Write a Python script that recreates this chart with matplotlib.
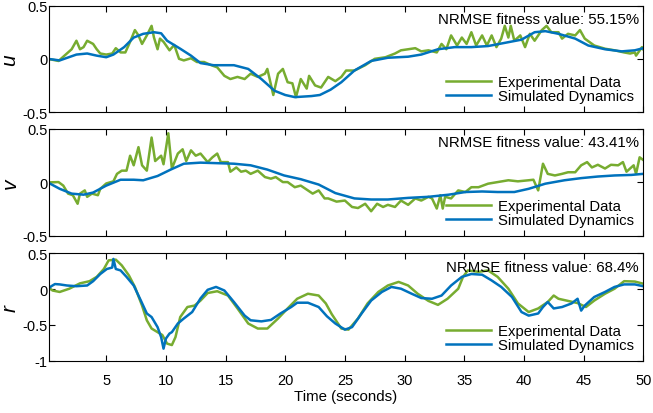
import matplotlib
matplotlib.use("Agg")
import matplotlib.pyplot as plt

# ---- data ----
t_u_exp = [0.1, 1, 1.5, 2.1, 2.5, 2.8, 3.1, 3.4, 3.9, 4.2, 4.5, 5, 5.5, 5.8, 6.2, 6.6, 7, 7.4, 7.7, 8,
           8.4, 8.8, 9, 9.3, 9.5, 9.8, 10.3, 10.7, 11.1, 11.5, 12.1, 12.6, 13.2, 13.8, 14.3, 14.9, 15.4,
           16, 16.6, 17.1, 17.7, 18.3, 18.5, 19, 19.4, 19.8, 20.2, 20.6, 20.9, 21.3, 21.8, 22, 22.5, 23,
           23.6, 23.9, 24.2, 24.7, 25.1, 25.8, 26.7, 27.5, 28.4, 29.2, 29.7, 30.3, 30.9, 31.4, 32, 32.7,
           33.1, 33.5, 33.9, 34.4, 34.8, 35.2, 35.6, 36, 36.5, 36.9, 37.3, 37.7, 38.1, 38.4, 38.7, 38.9,
           39.2, 39.7, 40.1, 40.5, 40.9, 41.5, 41.9, 42.3, 42.9, 43.2, 43.7, 44.3, 44.7, 45.1, 45.9, 46.8,
           47.6, 48.4, 48.9, 49.3, 49.4, 49.9, 50]
u_exp = [0, -0.02, 0.03, 0.09, 0.17, 0.09, 0.11, 0.17, 0.14, 0.09, 0.05, 0.04, 0.05, 0.1, 0.06, 0.06,
         0.16, 0.27, 0.22, 0.14, 0.22, 0.31, 0.2, 0.09, 0.19, 0.16, 0.08, 0.13, 0, -0.015, 0.005, -0.03,
         -0.03, -0.06, -0.08, -0.16, -0.19, -0.17, -0.19, -0.14, -0.17, -0.14, -0.095, -0.34, -0.14,
         -0.095, -0.22, -0.23, -0.36, -0.19, -0.28, -0.16, -0.25, -0.27, -0.17, -0.19, -0.21, -0.17,
         -0.11, -0.11, -0.06, 0, 0.015, 0.05, 0.08, 0.09, 0.1, 0.07, 0.08, 0.06, 0.14, 0.09, 0.22, 0.125,
         0.2, 0.14, 0.25, 0.125, 0.22, 0.125, 0.22, 0.11, 0.19, 0.31, 0.2, 0.31, 0.17, 0.22, 0.11, 0.235,
         0.17, 0.27, 0.31, 0.25, 0.25, 0.19, 0.235, 0.22, 0.27, 0.19, 0.125, 0.095, 0.08, 0.06, 0.05,
         0.06, 0.03, 0.11, 0.09]
t_u_sim = [0.1, 1.1, 2.5, 3.4, 4.2, 5, 5.6, 6.5, 7.3, 8.1, 9, 9.6, 10.1, 11.2, 12.1, 12.9, 14, 15.7,
           16.9, 18, 19.1, 20, 20.8, 22.2, 22.9, 23.8, 24.7, 25.8, 27.2, 28.6, 30.3, 31.4, 32.8, 34.2,
           35.6, 37, 38.4, 39.8, 40.9, 41.8, 42.9, 44.3, 45.4, 46.8, 48.2, 49.3, 50]
u_sim = [0, -0.015, 0.04, 0.05, 0.03, 0.015, 0.04, 0.11, 0.2, 0.235, 0.25, 0.24, 0.17, 0.095, 0.03,
         -0.04, -0.06, -0.06, -0.095, -0.19, -0.3, -0.34, -0.36, -0.35, -0.34, -0.29, -0.22, -0.11,
         -0.02, 0.01, 0.02, 0.04, 0.09, 0.11, 0.11, 0.12, 0.15, 0.18, 0.25, 0.26, 0.235, 0.19, 0.125,
         0.09, 0.07, 0.08, 0.1]

t_v_exp = [0.1, 1, 1.4, 1.8, 2.2, 2.6, 2.8, 3.2, 3.4, 3.8, 4.3, 4.5, 5, 5.6, 5.9, 6.3, 6.7, 7, 7.3, 7.7,
           8, 8.4, 8.8, 9.1, 9.6, 9.8, 10.2, 10.5, 11, 11.4, 11.7, 12.1, 12.5, 12.9, 13.5, 13.9, 14.3,
           14.6, 15.2, 15.4, 15.9, 16.3, 16.7, 17.1, 17.7, 18.3, 18.8, 19.2, 19.8, 20.2, 20.8, 21.3, 21.9,
           22.3, 22.8, 23.3, 23.6, 24.3, 25, 25.6, 26.1, 26.7, 27.2, 27.7, 28.2, 28.6, 29.2, 29.7, 30.3,
           30.9, 31.4, 32, 32.3, 32.7, 33, 33.2, 33.4, 33.9, 34.5, 35.1, 35.6, 36.2, 37, 37.8, 38.7, 39.5,
           40.4, 40.8, 41.2, 41.6, 42, 42.6, 43.2, 43.7, 44.3, 44.8, 45.3, 45.7, 46.2, 46.8, 47.3, 47.9,
           48.3, 48.6, 49.2, 49.4, 49.7, 50]
v_exp = [0, 0.003, -0.03, -0.105, -0.12, -0.2, -0.105, -0.075, -0.135, -0.105, -0.12, -0.06, -0.01,
         0.01, 0.08, 0.11, 0.11, 0.25, 0.16, 0.33, 0.16, 0.11, 0.42, 0.2, 0.25, 0.17, 0.46, 0.13, 0.27,
         0.31, 0.2, 0.3, 0.25, 0.27, 0.19, 0.235, 0.27, 0.19, 0.19, 0.1, 0.14, 0.1, 0.11, 0.08, 0.11,
         0.05, 0.035, 0.05, 0.003, 0.003, -0.045, -0.03, -0.075, -0.105, -0.075, -0.15, -0.15, -0.18,
         -0.17, -0.23, -0.24, -0.2, -0.27, -0.2, -0.23, -0.21, -0.23, -0.17, -0.21, -0.15, -0.17, -0.135,
         -0.15, -0.245, -0.12, -0.245, -0.135, -0.15, -0.075, -0.09, -0.045, -0.045, -0.012, 0.003, 0.02,
         0.01, 0.02, 0.025, -0.075, 0.175, 0.08, 0.065, 0.08, 0.095, 0.095, 0.16, 0.19, 0.14, 0.165, 0.13,
         0.165, 0.16, 0.19, 0.1, 0.16, 0.08, 0.235, 0.21]
t_v_sim = [0.1, 1.1, 2.1, 3.1, 3.9, 5, 6.2, 7.3, 8.1, 9.3, 10.4, 11.5, 12.9, 14.3, 15.7, 17.1, 18.5,
           19.9, 21.3, 22.8, 24.2, 25.8, 27.2, 28.6, 30.3, 32, 33.7, 35.1, 36.5, 37.8, 39.2, 40.4, 41.8,
           43.4, 44.8, 46.2, 47.6, 49, 50]
v_sim = [0, -0.06, -0.105, -0.115, -0.095, -0.03, 0.025, 0.025, 0.02, 0.06, 0.12, 0.175, 0.185, 0.18,
         0.175, 0.16, 0.12, 0.065, 0.03, -0.02, -0.1, -0.15, -0.16, -0.16, -0.145, -0.135, -0.115, -0.09,
         -0.085, -0.09, -0.09, -0.06, -0.012, 0.02, 0.04, 0.055, 0.065, 0.07, 0.08]

t_r_exp = [0.1, 0.5, 1.1, 1.9, 2.8, 3.6, 4.2, 4.8, 5.2, 5.8, 6.3, 6.9, 7.4, 8, 8.4, 8.8, 9.3, 9.7, 10.1,
           10.5, 10.8, 11.2, 11.8, 12.4, 12.9, 13.5, 14.3, 15.2, 16, 16.9, 17.7, 18.5, 19.4, 20.2, 21,
           21.9, 22.8, 23.4, 23.9, 24.7, 25.3, 26.1, 26.9, 27.8, 28.6, 29.5, 30.3, 31.1, 32, 32.8, 33.6,
           34.5, 34.9, 35.3, 36.2, 37, 37.8, 38.7, 39.5, 40.4, 41.2, 42, 42.5, 42.9, 43.7, 44.5, 45.2,
           45.9, 46.8, 47.6, 48.4, 49.3, 50]
r_exp = [0.03, -0.02, -0.04, 0.005, 0.08, 0.11, 0.17, 0.28, 0.4, 0.41, 0.33, 0.19, 0.03, -0.23, -0.435,
         -0.55, -0.6, -0.64, -0.76, -0.78, -0.67, -0.39, -0.25, -0.23, -0.16, -0.055, -0.03, -0.09,
         -0.27, -0.48, -0.55, -0.55, -0.41, -0.27, -0.135, -0.065, -0.09, -0.2, -0.35, -0.55, -0.565,
         -0.41, -0.2, -0.04, 0.05, 0.1, 0.05, -0.065, -0.165, -0.22, -0.135, 0.005, 0.17, 0.26, 0.24,
         0.26, 0.17, 0.005, -0.2, -0.32, -0.27, -0.18, -0.09, -0.135, -0.165, -0.195, -0.25, -0.16,
         -0.065, 0.005, 0.11, 0.105, 0.075]
t_r_sim = [0.1, 0.4, 0.7, 1.1, 1.7, 2.5, 3.4, 3.9, 4.5, 5.05, 5.5, 5.6, 5.8, 6.2, 6.7, 7.3, 7.9, 8.4,
           8.8, 9.3, 9.6, 9.8, 10, 10.3, 10.5, 11, 11.5, 12.2, 12.9, 13.5, 14.2, 14.9, 15.7, 16.6, 17.1,
           18, 18.8, 19.6, 20.5, 21, 21.9, 22.8, 23.5, 24.2, 25, 25.6, 26.4, 27.2, 28.1, 28.9, 29.7, 30.6,
           31.4, 32.3, 33.1, 33.9, 34.8, 35.6, 36.5, 37.3, 38.1, 39, 39.8, 40.4, 41.2, 41.6, 42, 42.5,
           43.2, 44, 44.5, 44.8, 45.1, 45.9, 46.8, 47.6, 48.4, 49.3, 50]
r_sim = [0, 0.04, 0.07, 0.065, 0.05, 0.04, 0.05, 0.11, 0.21, 0.28, 0.3, 0.42, 0.28, 0.26, 0.17, 0.05,
         -0.16, -0.34, -0.39, -0.53, -0.67, -0.83, -0.69, -0.62, -0.6, -0.48, -0.41, -0.32, -0.13, -0.01,
         0.03, -0.02, -0.18, -0.37, -0.435, -0.45, -0.43, -0.34, -0.25, -0.19, -0.19, -0.25, -0.38,
         -0.48, -0.565, -0.53, -0.34, -0.16, -0.04, 0.03, 0.005, -0.065, -0.125, -0.135, -0.09, 0.05,
         0.17, 0.21, 0.2, 0.12, 0.03, -0.11, -0.32, -0.37, -0.34, -0.25, -0.18, -0.27, -0.25, -0.2,
         -0.135, -0.3, -0.23, -0.11, -0.04, 0.03, 0.065, 0.065, 0.04]

labels = ["u", "v", "r"]
fitness = ["55.15%", "43.41%", "68.4%"]
ylims = [(-0.5, 0.5), (-0.5, 0.5), (-1, 0.5)]
yticks = [[-0.5, 0, 0.5], [-0.5, 0, 0.5], [-1, -0.5, 0, 0.5]]
xticks = [5, 10, 15, 20, 25, 30, 35, 40, 45, 50]

green = "#77AC30"
blue = "#0072BD"

plt.rcParams["font.family"] = ["Liberation Sans", "DejaVu Sans"]
plt.rcParams["axes.unicode_minus"] = False

fig = plt.figure(figsize=(6.53, 4.14), dpi=100)
boxes = [[0.075, 0.727, 0.910, 0.257],
         [0.075, 0.428, 0.910, 0.258],
         [0.075, 0.126, 0.910, 0.260]]
series = [(t_u_exp, u_exp, t_u_sim, u_sim),
          (t_v_exp, v_exp, t_v_sim, v_sim),
          (t_r_exp, r_exp, t_r_sim, r_sim)]

for i, box in enumerate(boxes):
    ax = fig.add_axes(box)
    te, ye, ts, ys = series[i]
    ax.plot(te, ye, color=green, lw=1.8, label="Experimental Data")
    ax.plot(ts, ys, color=blue, lw=1.8, label="Simulated Dynamics")
    ax.set_xlim(0.2, 50)
    ax.set_ylim(*ylims[i])
    ax.set_yticks(yticks[i])
    ax.set_yticklabels([("%g" % v) for v in yticks[i]])
    ax.set_xticks(xticks)
    if i < 2:
        ax.set_xticklabels([])
    ax.tick_params(direction="in", top=True, right=True, labelsize=10.5, length=4)
    ax.tick_params(axis="y", pad=1)
    ax.tick_params(axis="x", pad=9)
    ax.set_ylabel(labels[i], fontsize=15, style="italic", labelpad=2)
    ax.text(0.993, 0.875, "NRMSE fitness value: " + fitness[i], transform=ax.transAxes,
            ha="right", va="center", fontsize=10.8)
    ax.legend(loc="lower right", frameon=False, fontsize=10.7, handlelength=3.0,
              handletextpad=0.5, labelspacing=0.0, borderaxespad=0.2)

ax.set_xlabel("Time (seconds)", fontsize=10.8, labelpad=1)

fig.savefig("out.png", dpi=100)
